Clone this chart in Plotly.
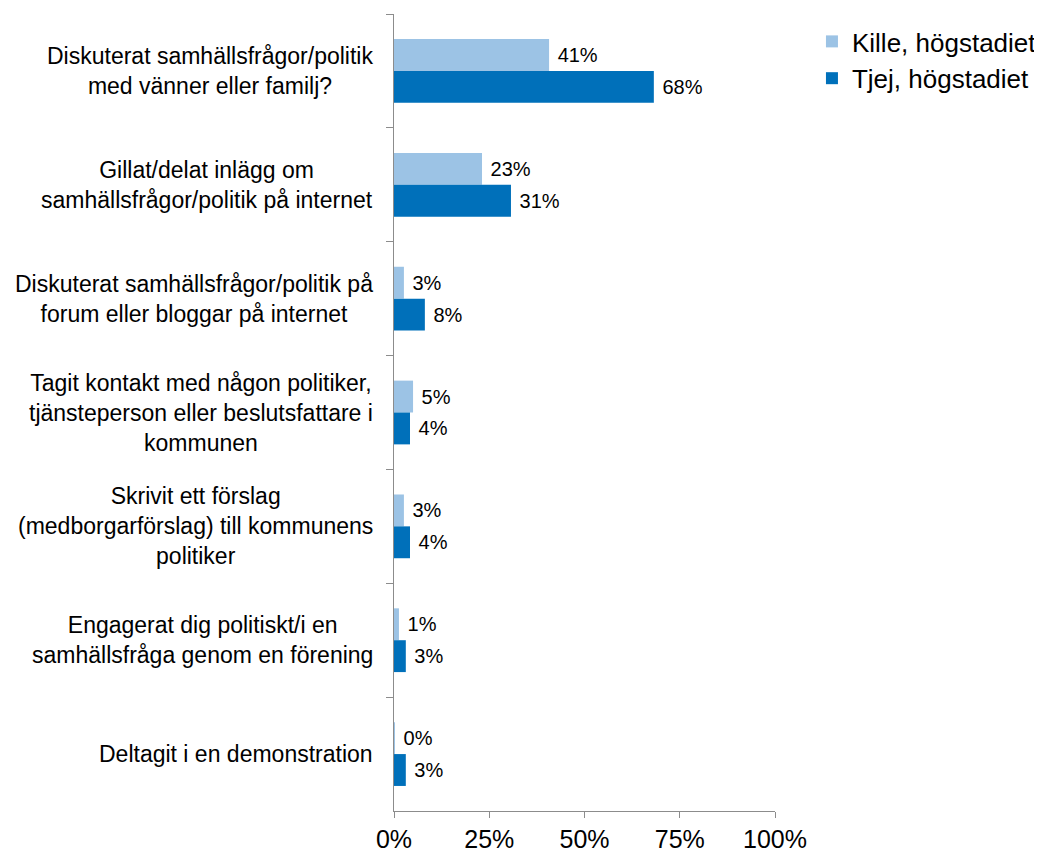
import plotly.graph_objects as go

categories = [
    "Diskuterat samhällsfrågor/politik<br>med vänner eller familj?",
    "Gillat/delat inlägg om<br>samhällsfrågor/politik på internet",
    "Diskuterat samhällsfrågor/politik på<br>forum eller bloggar på internet",
    "Tagit kontakt med någon politiker,<br>tjänsteperson eller beslutsfattare i<br>kommunen",
    "Skrivit ett förslag<br>(medborgarförslag) till kommunens<br>politiker",
    "Engagerat dig politiskt/i en<br>samhällsfråga genom en förening",
    "Deltagit i en demonstration",
]
kille = [40.7, 23.1, 2.6, 5.0, 2.6, 1.3, 0.2]
tjej = [68.2, 30.7, 8.1, 4.2, 4.2, 3.1, 3.1]
tick_vals = [0, 25, 50, 75, 100]
tick_text = ["0%", "25%", "50%", "75%", "100%"]

cat_ids = [f"c{i}" for i in range(len(categories))]

fig = go.Figure()
fig.add_trace(go.Bar(
    y=cat_ids, x=kille, orientation="h", name="Kille, högstadiet",
    marker=dict(color="#9CC3E5", line=dict(width=0)),
    texttemplate="\u00a0%{x:.0f}%", textposition="outside",
    textfont=dict(size=20, color="#000000"), cliponaxis=False,
))
fig.add_trace(go.Bar(
    y=cat_ids, x=tjej, orientation="h", name="Tjej, högstadiet",
    marker=dict(color="#0070BA", line=dict(width=0)),
    texttemplate="\u00a0%{x:.0f}%", textposition="outside",
    textfont=dict(size=20, color="#000000"), cliponaxis=False,
))

for cid, label in zip(cat_ids, categories):
    fig.add_annotation(
        x=-0.05, xref="paper", y=cid, yref="y", text=label,
        showarrow=False, xanchor="right", align="center",
        font=dict(size=23, color="#000000"),
    )

fig.update_layout(
    width=1034, height=854,
    margin=dict(l=386, r=267, t=6, b=51, autoexpand=False),
    paper_bgcolor="white", plot_bgcolor="white",
    barmode="group", bargap=0.44, bargroupgap=0,
    font=dict(family="Liberation Sans, Arial, sans-serif", color="#000000"),
    showlegend=True,
    legend=dict(
        x=1.097, y=0.995, xanchor="left", yanchor="top",
        font=dict(size=26), traceorder="normal", itemwidth=30,
        bgcolor="rgba(0,0,0,0)",
    ),
)
fig.update_xaxes(
    range=[0, 100], tickvals=tick_vals, ticktext=tick_text,
    showgrid=False, zeroline=False, showline=True, linecolor="#8C8C8C",
    linewidth=1, ticks="outside", ticklen=6, tickcolor="#8C8C8C",
    tickfont=dict(size=25), fixedrange=True, automargin=False,
)
fig.update_yaxes(
    categoryorder="array", categoryarray=cat_ids, autorange="reversed",
    showgrid=False, zeroline=False, showline=True, linecolor="#8C8C8C",
    linewidth=1, ticks="outside", ticklen=7, tickcolor="#8C8C8C",
    tickson="boundaries", showticklabels=False, automargin=False,
)

fig.write_html("out.html")
